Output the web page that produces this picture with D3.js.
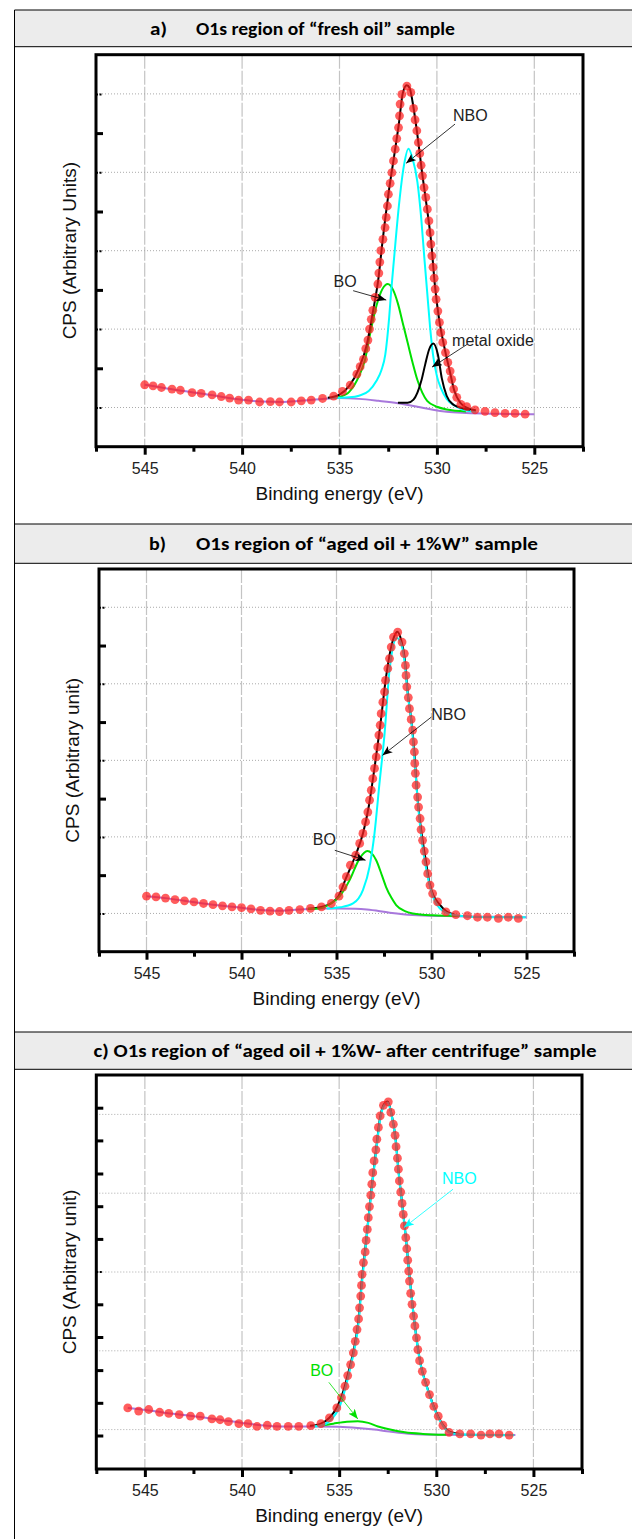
<!DOCTYPE html>
<html>
<head>
<meta charset="utf-8">
<script src="https://d3js.org/d3.v7.min.js"></script>
<style>
  body { margin: 0; background: #fff; }
  svg { display: block; font-family: Arial, "Liberation Sans", sans-serif; }
</style>
</head>
<body>
<svg id="root" width="632" height="1539"></svg>
<script>
// ---- shared axis values ----
var xDomain = [547.5, 522.5];
var yDomain = [-1, 9];
var xMajorTicks = [545, 540, 535, 530, 525];
var xMinorTicks = [547.5, 542.5, 537.5, 532.5, 527.5, 522.5];
var yGridValues = [0, 2, 4, 6, 8];
var yTicksAB = [0, 1, 2, 3, 4, 5, 6, 7, 8];
var yTicksC = [-0.15, 0.68, 1.51, 2.35, 3.18, 4.01, 4.84, 5.67, 6.5, 7.34, 8.17];

// ---- a) fresh oil ----
var aDots = [[545.0,0.58],[544.57,0.55],[544.14,0.51],[543.6,0.47],[543.17,0.44],[542.57,0.38],[542.1,0.36],[541.54,0.32],[541.07,0.28],[540.64,0.24],[540.18,0.19],[539.67,0.19],[539.1,0.14],[538.55,0.15],[538.08,0.14],[537.48,0.14],[536.96,0.17],[536.45,0.19],[535.87,0.23],[535.3,0.29],[534.85,0.41],[534.45,0.57],[534.11,0.85],[533.94,1.04],[533.77,1.23],[533.65,1.5],[533.54,1.72],[533.46,2.0],[533.37,2.25],[533.29,2.48],[533.17,2.81],[533.03,3.15],[532.98,3.43],[532.93,3.71],[532.88,4.0],[532.77,4.29],[532.66,4.59],[532.6,4.85],[532.54,5.14],[532.49,5.44],[532.4,5.72],[532.31,5.99],[532.23,6.29],[532.14,6.59],[532.06,6.86],[531.97,7.14],[531.92,7.44],[531.89,7.74],[531.8,7.99],[531.54,8.2],[531.34,8.04],[531.2,7.63],[531.12,7.34],[531.03,7.06],[530.95,6.76],[530.88,6.48],[530.81,6.18],[530.74,5.91],[530.66,5.61],[530.57,5.36],[530.49,5.06],[530.41,4.76],[530.35,4.46],[530.31,4.17],[530.26,3.87],[530.2,3.58],[530.14,3.3],[530.09,3.02],[530.04,2.76],[529.95,2.46],[529.87,2.17],[529.8,1.91],[529.7,1.66],[529.56,1.4],[529.44,1.15],[529.32,0.93],[529.24,0.72],[529.14,0.47],[528.98,0.26],[528.77,0.08],[528.47,0.02],[528.04,-0.06],[527.53,-0.1],[527.02,-0.13],[526.5,-0.15],[525.99,-0.15],[525.47,-0.17]];
var aEnvelope = [[535.6,0.25],[535.0,0.33],[534.5,0.55],[534.0,1.0],[533.6,1.6],[533.3,2.4],[533.0,3.3],[532.8,4.2],[532.5,5.4],[532.2,6.4],[531.95,7.25],[531.75,8.02],[531.55,8.22],[531.4,8.15],[531.25,7.8],[531.0,6.95],[530.75,5.95],[530.5,5.05],[530.3,4.25],[530.1,3.1],[529.9,2.3],[529.6,1.5],[529.35,0.95],[529.1,0.42],[528.8,0.12],[528.4,-0.02],[528.0,-0.07]];
var aNBO = [[535.5,0.24],[534.5,0.26],[534.0,0.3],[533.5,0.42],[533.1,0.68],[532.85,0.95],[532.65,1.35],[532.45,2.3],[532.35,2.95],[532.2,3.8],[531.95,5.15],[531.7,6.15],[531.46,6.6],[531.25,6.35],[531.0,5.75],[530.8,4.8],[530.65,3.85],[530.5,2.95],[530.35,2.05],[530.2,1.35],[530.0,0.8],[529.8,0.5],[529.5,0.22],[529.0,0.02],[528.5,-0.08],[528.0,-0.11]];
var aBO = [[535.3,0.25],[535.0,0.27],[534.5,0.4],[534.0,0.8],[533.7,1.2],[533.4,1.95],[533.1,2.6],[532.8,3.02],[532.52,3.15],[532.25,3.0],[532.0,2.65],[531.75,2.15],[531.5,1.65],[531.25,1.15],[531.0,0.7],[530.75,0.38],[530.5,0.17],[530.0,0.02],[529.5,-0.05],[528.5,-0.1]];
var aMetalOxide = [[532.0,0.12],[531.5,0.12],[531.2,0.2],[531.0,0.38],[530.8,0.68],[530.6,1.1],[530.4,1.48],[530.18,1.63],[529.95,1.35],[529.75,0.75],[529.5,0.3],[529.15,0.07],[528.8,0.0],[528.3,-0.06]];
var aBackground = [[545,0.58],[544,0.5],[543,0.42],[542,0.35],[541,0.27],[540,0.2],[539,0.15],[538,0.14],[537,0.17],[536,0.21],[535,0.24],[534,0.22],[533,0.17],[532,0.11],[531,0.02],[530.2,-0.06],[529.5,-0.11],[528.5,-0.14],[527,-0.16],[525,-0.17]];
var aLabels = [
  {text: 'NBO', at: [529.17, 7.30], from: [529.07, 7.23], to: [531.58, 6.23], color: '#000'},
  {text: 'BO', at: [535.31, 3.07], from: [534.3, 2.98], to: [532.6, 2.74], color: '#000'},
  {text: 'metal oxide', at: [529.22, 1.56], from: [528.45, 1.61], to: [530.25, 1.03], color: '#000'}
];

// ---- b) aged oil + 1%W ----
var bDots = [[545,0.45],[544.5,0.43],[544,0.4],[543.5,0.36],[543,0.33],[542.5,0.3],[542,0.26],[541.5,0.23],[541,0.2],[540.5,0.17],[540,0.15],[539.5,0.12],[539,0.08],[538.5,0.06],[538,0.05],[537.5,0.08],[536.93,0.1],[536.37,0.13],[535.79,0.17],[535.27,0.26],[534.87,0.45],[534.66,0.69],[534.48,0.96],[534.27,1.26],[533.99,1.52],[533.78,1.83],[533.61,2.09],[533.47,2.39],[533.35,2.65],[533.26,2.96],[533.17,3.22],[533.09,3.52],[533.0,3.79],[532.91,4.09],[532.83,4.35],[532.77,4.66],[532.7,4.92],[532.65,5.22],[532.56,5.52],[532.47,5.79],[532.42,6.09],[532.3,6.4],[532.21,6.66],[532.12,6.96],[532.0,7.22],[531.78,7.35],[531.55,7.09],[531.43,6.79],[531.37,6.48],[531.34,6.22],[531.3,5.92],[531.22,5.64],[531.16,5.35],[531.07,5.07],[530.99,4.79],[530.95,4.48],[530.9,4.22],[530.88,3.92],[530.85,3.66],[530.81,3.35],[530.73,3.04],[530.68,2.78],[530.6,2.48],[530.55,2.19],[530.47,1.91],[530.38,1.63],[530.29,1.35],[530.2,1.04],[530.08,0.74],[529.94,0.52],[529.68,0.3],[529.24,0.04],[528.72,-0.03],[528.11,-0.06],[527.58,-0.1],[527.06,-0.1],[526.48,-0.13],[525.96,-0.1],[525.43,-0.13]];
var bEnvelope = [[536.5,0.12],[535.8,0.17],[535.3,0.26],[534.9,0.45],[534.5,0.92],[534.0,1.52],[533.6,2.1],[533.3,2.8],[533.0,3.8],[532.7,4.9],[532.4,6.15],[532.15,6.9],[531.95,7.25],[531.8,7.36],[531.6,7.15],[531.4,6.62],[531.25,5.76],[531.05,5.0],[530.9,4.2],[530.75,3.1],[530.55,2.2],[530.3,1.38],[530.1,0.78],[529.9,0.47],[529.6,0.25],[529.2,0.05],[528.8,-0.03]];
var bNBO = [[535.5,0.13],[534.8,0.16],[534.13,0.26],[533.61,0.61],[533.26,1.22],[533.0,2.09],[532.74,3.39],[532.47,4.7],[532.21,6.35],[531.82,7.2],[531.6,7.05],[531.4,6.52],[531.25,5.72],[531.05,4.98],[530.9,4.05],[530.73,2.95],[530.47,1.74],[530.2,0.96],[529.85,0.35],[529.24,0.02],[528.54,-0.06],[527,-0.1],[525.05,-0.1]];
var bBO = [[536.5,0.12],[535.88,0.13],[535.36,0.24],[534.83,0.45],[534.31,0.87],[533.78,1.44],[533.38,1.63],[532.91,1.39],[532.6,0.98],[532.39,0.69],[532.1,0.4],[531.86,0.22],[531.4,0.06],[530.99,0.0],[529.94,-0.05],[528.5,-0.07]];
var bBackground = [[545,0.45],[544,0.4],[543,0.33],[542,0.26],[541,0.2],[540,0.15],[539,0.09],[538,0.07],[537,0.1],[536,0.13],[535,0.13],[534,0.12],[533.4,0.1],[532.2,0.02],[531,-0.04],[529.24,-0.07],[527,-0.09],[525,-0.1]];
var bLabels = [
  {text: 'NBO', at: [530.01, 5.05], from: [530.01, 5.13], to: [532.58, 4.13], color: '#000'},
  {text: 'BO', at: [536.25, 1.78], from: [535.09, 1.65], to: [533.47, 1.39], color: '#000'}
];

// ---- c) aged oil + 1%W, after centrifuge ----
var cDots = [[545.88,0.55],[545.32,0.47],[544.8,0.51],[544.24,0.44],[543.77,0.41],[543.23,0.38],[542.65,0.34],[542.15,0.34],[541.55,0.27],[541.13,0.25],[540.7,0.2],[540.16,0.15],[539.69,0.15],[539.23,0.08],[538.7,0.11],[538.2,0.08],[537.62,0.08],[537.08,0.08],[536.46,0.1],[535.94,0.15],[535.5,0.3],[535.12,0.55],[534.88,0.81],[534.7,1.1],[534.56,1.37],[534.41,1.65],[534.27,1.95],[534.17,2.24],[534.08,2.54],[534.0,2.81],[533.95,3.09],[533.89,3.39],[533.85,3.66],[533.82,3.94],[533.75,4.24],[533.66,4.51],[533.61,4.8],[533.55,5.08],[533.5,5.38],[533.44,5.66],[533.37,5.95],[533.32,6.23],[533.27,6.52],[533.2,6.82],[533.11,7.1],[533.06,7.37],[532.98,7.67],[532.89,7.96],[532.72,8.23],[532.47,8.32],[532.34,8.05],[532.21,7.75],[532.12,7.47],[532.07,7.18],[532.0,6.89],[531.95,6.61],[531.9,6.31],[531.83,6.03],[531.76,5.74],[531.7,5.46],[531.64,5.17],[531.57,4.87],[531.52,4.59],[531.47,4.3],[531.42,4.02],[531.38,3.77],[531.32,3.46],[531.25,3.18],[531.17,2.88],[531.1,2.63],[531.02,2.33],[530.95,2.03],[530.86,1.75],[530.72,1.48],[530.55,1.2],[530.35,0.89],[530.13,0.59],[529.9,0.34],[529.66,0.11],[529.34,-0.07],[528.79,-0.11],[528.23,-0.11],[527.7,-0.14],[527.24,-0.11],[526.77,-0.11],[526.25,-0.14]];
var cEnvelope = [[536.5,0.1],[536.0,0.14],[535.5,0.3],[535.1,0.58],[534.8,0.95],[534.5,1.5],[534.2,2.15],[534.0,2.8],[533.85,3.7],[533.6,4.85],[533.35,6.05],[533.1,7.1],[532.9,7.9],[532.7,8.25],[532.5,8.33],[532.3,8.0],[532.1,7.4],[531.95,6.6],[531.75,5.7],[531.55,4.8],[531.4,4.0],[531.2,3.05],[531.0,2.25],[530.8,1.65],[530.5,1.12],[530.2,0.68],[529.9,0.33],[529.6,0.08],[529.3,-0.06],[528.8,-0.11]];
var cNBO = [[536.3,0.08],[535.8,0.12],[535.4,0.26],[535.0,0.56],[534.7,1.02],[534.45,1.52],[534.2,2.08],[534.0,2.72],[533.85,3.6],[533.6,4.8],[533.35,6.0],[533.1,7.05],[532.9,7.85],[532.7,8.22],[532.5,8.3],[532.3,7.98],[532.1,7.38],[531.95,6.58],[531.75,5.68],[531.55,4.78],[531.4,3.98],[531.2,3.03],[531.0,2.23],[530.8,1.63],[530.5,1.1],[530.2,0.66],[529.9,0.31],[529.6,0.06],[529.3,-0.08],[528.8,-0.12],[527,-0.14],[526,-0.14]];
var cBO = [[535.9,0.1],[535.3,0.15],[534.6,0.2],[534.04,0.21],[533.5,0.17],[533.0,0.08],[532.55,0.02],[531.62,-0.07],[530.69,-0.11],[529.5,-0.13]];
var cBackground = [[545.88,0.55],[545,0.5],[544,0.43],[543,0.37],[542,0.31],[541,0.24],[540,0.17],[539,0.11],[538,0.08],[537,0.08],[536.28,0.08],[535,0.07],[534.04,0.04],[533.2,0.0],[532.55,-0.04],[531.25,-0.11],[529.76,-0.13],[527.5,-0.14],[525.93,-0.14]];
var cLabels = [
  {text: 'NBO', at: [529.71, 6.23], from: [529.14, 6.1], to: [531.66, 5.13], color: '#00ffff'},
  {text: 'BO', at: [536.49, 1.35], from: [535.53, 1.2], to: [534.04, 0.27], color: '#00e000'}
];

// ---- headers ----
var headers = [
  {label: 'a)', title: 'O1s region of \u201cfresh oil\u201d sample'},
  {label: 'b)', title: 'O1s region of \u201caged oil + 1%W\u201d sample'},
  {label: '', title: 'c) O1s region of \u201caged oil + 1%W- after centrifuge\u201d sample'}
];
var yTitles = ['CPS (Arbitrary Units)', 'CPS (Arbitrary unit)', 'CPS (Arbitrary unit)'];

// page layout
var tableLeft = 14.5;
var layout = [
  {headTop: 10, headBottom: 46.7, left: 96, right: 583, top: 54.7, bottom: 446.7, labelX: 150, titleX: 196, titleW: 259},
  {headTop: 524, headBottom: 563.3, left: 99, right: 574, top: 569, bottom: 951.7, labelX: 149, titleX: 196, titleW: 342},
  {headTop: 1032, headBottom: 1069.3, left: 96.3, right: 582, top: 1075, bottom: 1469, labelX: 93.5, titleX: 93.5, titleW: 503}
];

var svg = d3.select('#root');

var defs = svg.append('defs');
var arrowIds = {};
['#000', '#00ffff', '#00e000'].forEach(function (c, i) {
  arrowIds[c] = 'arrow' + i;
  defs.append('marker')
    .attr('id', 'arrow' + i)
    .attr('markerUnits', 'userSpaceOnUse')
    .attr('markerWidth', 11).attr('markerHeight', 8)
    .attr('refX', 10).attr('refY', 4)
    .attr('orient', 'auto')
    .append('path')
    .attr('d', 'M0,0 L10,4 L0,8 L2.5,4 Z')
    .attr('fill', c);
});

// table header rows and rules
var headFont = 'Carlito, Calibri, "Open Sans", sans-serif';
layout.forEach(function (L, i) {
  svg.append('rect')
    .attr('x', tableLeft).attr('y', L.headTop)
    .attr('width', 632 - tableLeft).attr('height', L.headBottom - L.headTop)
    .attr('fill', '#ececec');
  [L.headTop, L.headBottom].forEach(function (yy) {
    svg.append('line')
      .attr('x1', tableLeft).attr('x2', 632)
      .attr('y1', yy).attr('y2', yy)
      .attr('stroke', '#000').attr('stroke-width', 1);
  });
  var ty = (L.headTop + L.headBottom) / 2 + 6.5;
  var h = headers[i];
  if (h.label) {
    svg.append('text')
      .attr('x', L.labelX).attr('y', ty)
      .attr('font-family', headFont)
      .attr('font-weight', 'bold').attr('font-size', 18.5)
      .attr('textLength', 17).attr('lengthAdjust', 'spacingAndGlyphs')
      .text(h.label);
  }
  svg.append('text')
    .attr('x', L.titleX).attr('y', ty)
    .attr('font-family', headFont)
    .attr('font-weight', 'bold').attr('font-size', 18.5)
    .attr('textLength', L.titleW).attr('lengthAdjust', 'spacingAndGlyphs')
    .text(h.title);
});
svg.append('line')
  .attr('x1', tableLeft).attr('x2', tableLeft)
  .attr('y1', 10).attr('y2', 1539)
  .attr('stroke', '#000').attr('stroke-width', 1);

var panelData = [
  {dots: aDots, bg: aBackground, comps: [[aBO, '#00e000'], [aNBO, '#00ffff'], [aMetalOxide, '#000']], env: aEnvelope, envOnTop: true, labels: aLabels, yTicks: yTicksAB},
  {dots: bDots, bg: bBackground, comps: [[bBO, '#00e000'], [bNBO, '#00ffff']], env: bEnvelope, envOnTop: false, labels: bLabels, yTicks: yTicksAB},
  {dots: cDots, bg: cBackground, comps: [[cBO, '#00e000']], env: cEnvelope, envOnTop: false, cyan: cNBO, labels: cLabels, yTicks: yTicksC}
];

function drawPanel(L, P, yTitle) {
  var x = d3.scaleLinear().domain(xDomain).range([L.left, L.right]);
  var y = d3.scaleLinear().domain(yDomain).range([L.bottom, L.top]);
  var g = svg.append('g');

  // grid
  g.selectAll('.vgrid').data(xMajorTicks).enter().append('line')
    .attr('x1', function (d) { return x(d); }).attr('x2', function (d) { return x(d); })
    .attr('y1', L.top).attr('y2', L.bottom)
    .attr('stroke', '#c4c4c4').attr('stroke-width', 1.2)
    .attr('stroke-dasharray', '14,2');
  g.selectAll('.hgrid').data(yGridValues).enter().append('line')
    .attr('x1', L.left).attr('x2', L.right)
    .attr('y1', function (d) { return y(d); }).attr('y2', function (d) { return y(d); })
    .attr('stroke', '#aaa').attr('stroke-width', 1)
    .attr('stroke-dasharray', '1,2');

  var line = d3.line()
    .x(function (d) { return x(d[0]); })
    .y(function (d) { return y(d[1]); })
    .curve(d3.curveMonotoneX);

  function path(data, color, w) {
    g.append('path').datum(data)
      .attr('fill', 'none').attr('stroke', color)
      .attr('stroke-width', w).attr('stroke-linejoin', 'round')
      .attr('d', line);
  }

  path(P.bg, '#a878dc', 2);
  if (!P.envOnTop) path(P.env, '#000', 2);
  P.comps.forEach(function (c) { path(c[0], c[1], 2); });
  if (P.cyan) path(P.cyan, '#00ffff', 2.2);
  if (P.envOnTop) path(P.env, '#000', 2);

  // data points
  g.selectAll('.pt').data(P.dots).enter().append('circle')
    .attr('cx', function (d) { return x(d[0]); })
    .attr('cy', function (d) { return y(d[1]); })
    .attr('r', 4.4)
    .attr('fill', '#ff1f1f').attr('fill-opacity', 0.72);

  // annotations
  P.labels.forEach(function (a) {
    g.append('line')
      .attr('x1', x(a.from[0])).attr('y1', y(a.from[1]))
      .attr('x2', x(a.to[0])).attr('y2', y(a.to[1]))
      .attr('stroke', a.color).attr('stroke-width', 0.8)
      .attr('marker-end', 'url(#' + arrowIds[a.color] + ')');
    g.append('text')
      .attr('x', x(a.at[0])).attr('y', y(a.at[1]))
      .attr('font-size', 16).attr('fill', a.color === '#000' ? '#222' : a.color)
      .text(a.text);
  });

  // frame
  g.append('rect')
    .attr('x', L.left).attr('y', L.top)
    .attr('width', L.right - L.left).attr('height', L.bottom - L.top)
    .attr('fill', 'none').attr('stroke', '#000').attr('stroke-width', 3);

  // x axis
  var xa = g.append('g').attr('transform', 'translate(0,' + L.bottom + ')')
    .call(d3.axisBottom(x).tickValues(xMajorTicks).tickSize(8).tickPadding(8).tickFormat(d3.format('d')));
  xa.select('.domain').remove();
  xa.selectAll('line').attr('stroke-width', 3);
  xa.selectAll('text').attr('font-size', 16).attr('font-family', 'Arial, "Liberation Sans", sans-serif').attr('fill', '#222');
  var xm = g.append('g').attr('transform', 'translate(0,' + L.bottom + ')')
    .call(d3.axisBottom(x).tickValues(xMinorTicks).tickSize(5).tickFormat(''));
  xm.select('.domain').remove();
  xm.selectAll('line').attr('stroke-width', 3);

  // y axis (ticks inward, no labels)
  var ya = g.append('g').attr('transform', 'translate(' + L.left + ',0)')
    .call(d3.axisRight(y).tickValues(P.yTicks).tickSize(7).tickFormat(''));
  ya.select('.domain').remove();
  ya.selectAll('line').each(function (d) {
    var onGrid = yGridValues.some(function (v) { return Math.abs(v - d) < 0.05; });
    d3.select(this)
      .attr('stroke-width', onGrid ? 2 : 3)
      .attr('stroke-dasharray', onGrid ? '2,1.5' : null);
  });

  // titles
  g.append('text')
    .attr('x', (L.left + L.right) / 2).attr('y', L.bottom + 53)
    .attr('text-anchor', 'middle').attr('font-size', 19).attr('fill', '#111')
    .text('Binding energy (eV)');
  g.append('text')
    .attr('transform', 'translate(' + (L.left - 20) + ',' + ((L.top + L.bottom) / 2) + ') rotate(-90)')
    .attr('text-anchor', 'middle').attr('font-size', 19).attr('fill', '#111')
    .text(yTitle);
}

layout.forEach(function (L, i) { drawPanel(L, panelData[i], yTitles[i]); });
</script>
</body>
</html>
